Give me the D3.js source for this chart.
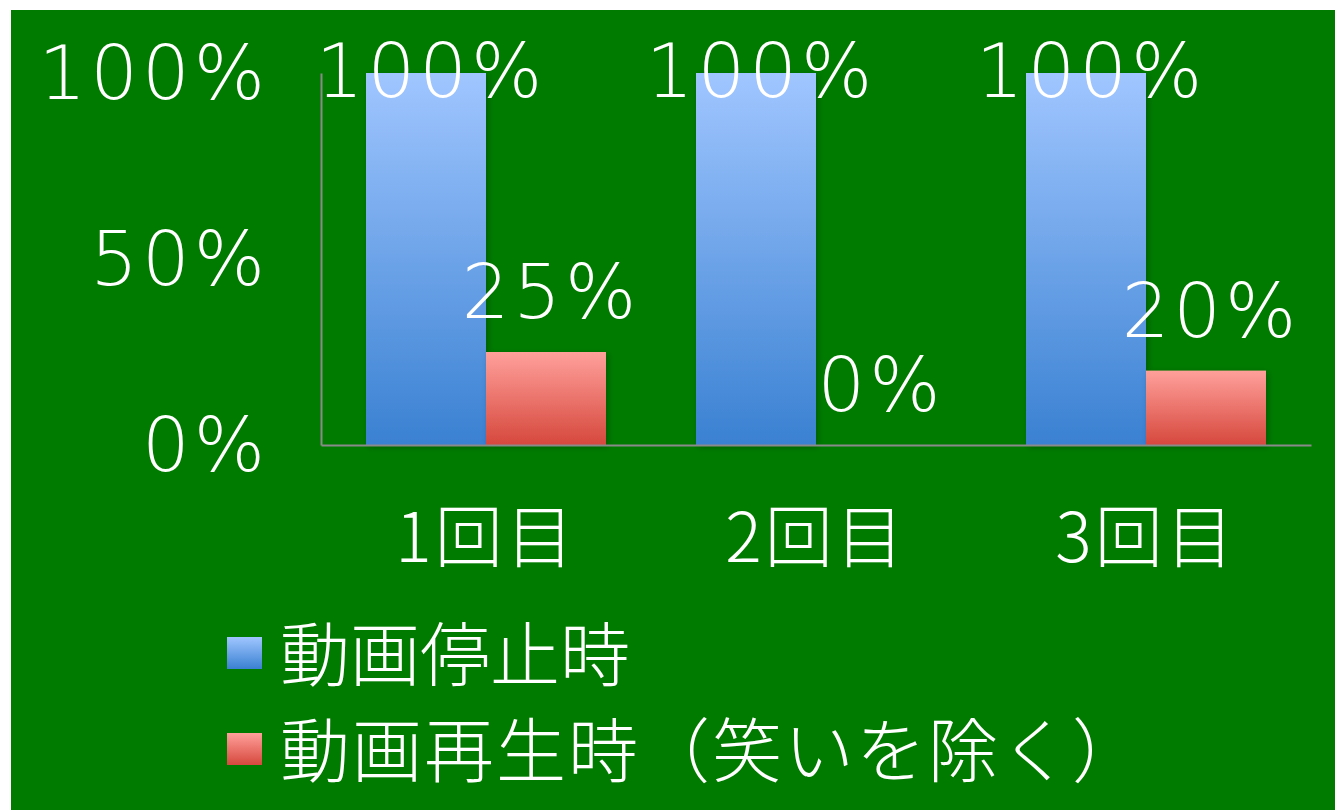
<!DOCTYPE html>
<html>
<head>
<meta charset="utf-8">
<script src="https://cdn.jsdelivr.net/npm/d3@7"></script>
<style>
  body { margin: 0; background: #fff; }
  svg { display: block; }
</style>
</head>
<body>
<svg id="chart"></svg>
<script>
// data
const categories = ["1回目", "2回目", "3回目"];
const seriesNames = ["動画停止時", "動画再生時（笑いを除く）"];
const stopValues = [1.00, 1.00, 1.00];
const playValues = [0.25, 0.00, 0.20];
const yTicks = [0, 0.5, 1];

const width = 1335, height = 810;
const plot = {left: 321, right: 1311, top: 73, bottom: 445};

const svg = d3.select("#chart")
    .attr("width", width)
    .attr("height", height);

const defs = svg.append("defs");

// bar gradients
const gradients = [
    {id: "gradBlue", top: "#a0c6ff", bottom: "#3a81d2"},
    {id: "gradRed", top: "#ffa09b", bottom: "#d6483d"}
];
gradients.forEach(g => {
    const lg = defs.append("linearGradient")
        .attr("id", g.id)
        .attr("x1", 0).attr("y1", 0)
        .attr("x2", 0).attr("y2", 1);
    lg.append("stop").attr("offset", "0%").attr("stop-color", g.top);
    lg.append("stop").attr("offset", "100%").attr("stop-color", g.bottom);
});

defs.append("filter")
    .attr("id", "shadow")
    .attr("x", "-10%").attr("y", "-10%")
    .attr("width", "130%").attr("height", "130%")
    .append("feDropShadow")
    .attr("dx", 2).attr("dy", 2)
    .attr("stdDeviation", 3)
    .attr("flood-color", "#000")
    .attr("flood-opacity", 0.25);

// background
svg.append("rect")
    .attr("x", 11).attr("y", 10)
    .attr("width", width - 11).attr("height", height - 10)
    .attr("fill", "#007b00");

const numFont = "'DejaVu Sans', sans-serif";
const jpFont = "'Noto Sans CJK JP', 'Noto Sans', sans-serif";

// scales
const x0 = d3.scaleBand()
    .domain(categories)
    .range([plot.left, plot.right])
    .paddingInner(90 / 330)
    .paddingOuter(45 / 330);

const x1 = d3.scaleBand()
    .domain(seriesNames)
    .range([0, x0.bandwidth()]);

const y = d3.scaleLinear()
    .domain([0, 1])
    .range([plot.bottom, plot.top]);

const pct = d3.format(".0%");

// bars
const rows = categories.map((c, i) => ({
    category: c,
    values: [
        {series: seriesNames[0], value: stopValues[i], fill: "url(#gradBlue)"},
        {series: seriesNames[1], value: playValues[i], fill: "url(#gradRed)"}
    ]
}));

const groups = svg.append("g").selectAll("g")
    .data(rows)
    .enter().append("g")
    .attr("transform", d => `translate(${x0(d.category)},0)`);

groups.selectAll("rect")
    .data(d => d.values.filter(v => v.value > 0))
    .enter().append("rect")
    .attr("x", d => x1(d.series))
    .attr("y", d => y(d.value))
    .attr("width", x1.bandwidth())
    .attr("height", d => y(0) - y(d.value))
    .attr("fill", d => d.fill)
    .attr("filter", "url(#shadow)");

// axes
const yAxis = d3.axisLeft(y)
    .tickValues([])
    .tickSizeOuter(0);
svg.append("g")
    .attr("transform", `translate(${plot.left},0)`)
    .call(yAxis)
    .select(".domain")
    .attr("stroke", "#8a8a8a")
    .attr("stroke-width", 2);

const xAxis = d3.axisBottom(x0)
    .tickValues([])
    .tickSizeOuter(0);
svg.append("g")
    .attr("transform", `translate(0,${plot.bottom})`)
    .call(xAxis)
    .select(".domain")
    .attr("stroke", "#8a8a8a")
    .attr("stroke-width", 2);

// y tick labels
svg.append("g").selectAll("text")
    .data(yTicks)
    .enter().append("text")
    .attr("x", 269)
    .attr("y", d => y(d))
    .attr("dy", "0.35em")
    .attr("text-anchor", "end")
    .attr("fill", "#fff")
    .style("font-family", numFont)
    .style("font-weight", 200)
    .style("font-size", "75px")
    .style("letter-spacing", "4px")
    .text(pct);

// category labels
svg.append("g").selectAll("text")
    .data(categories)
    .enter().append("text")
    .attr("x", d => x0(d) + x0.bandwidth() / 2)
    .attr("y", 532)
    .attr("dominant-baseline", "central")
    .attr("text-anchor", "middle")
    .attr("fill", "#fff")
    .style("font-family", jpFont)
    .style("font-weight", 300)
    .style("font-size", "68px")
    .style("letter-spacing", "3px")
    .text(d => d);

// data labels
groups.selectAll("text")
    .data(d => d.values)
    .enter().append("text")
    .attr("x", d => x1(d.series) + x1.bandwidth() / 2 + 5)
    .attr("y", d => Math.max(y(d.value) - 34, plot.top + 24))
    .attr("text-anchor", "middle")
    .attr("fill", "#fff")
    .style("font-family", numFont)
    .style("font-weight", 200)
    .style("font-size", "75px")
    .style("letter-spacing", "4px")
    .text(d => pct(d.value));

// legend
const legendFills = ["url(#gradBlue)", "url(#gradRed)"];
const legend = svg.append("g").selectAll("g")
    .data(seriesNames)
    .enter().append("g")
    .attr("transform", (d, i) => `translate(227,${637 + i * 96})`);

legend.append("rect")
    .attr("width", 35)
    .attr("height", 32)
    .attr("fill", (d, i) => legendFills[i]);

legend.append("text")
    .attr("x", 53)
    .attr("y", 13)
    .attr("dominant-baseline", "central")
    .attr("fill", "#fff")
    .style("font-family", jpFont)
    .style("font-weight", 300)
    .style("font-size", "70px")
    .style("letter-spacing", (d, i) => i === 1 ? "2px" : "0px")
    .text(d => d);
</script>
</body>
</html>
